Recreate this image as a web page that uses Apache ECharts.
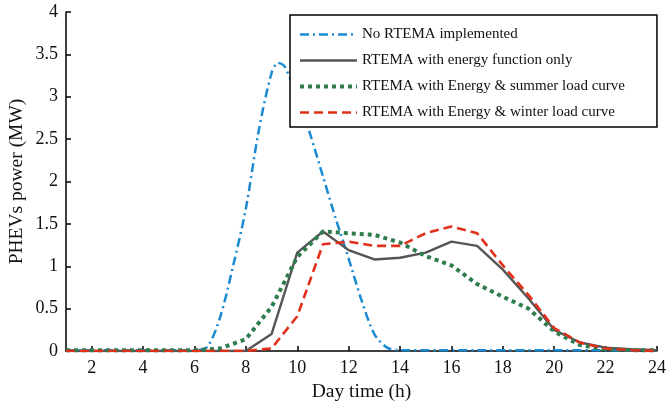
<!DOCTYPE html>
<html>
<head>
<meta charset="utf-8">
<script src="https://cdn.jsdelivr.net/npm/echarts@6/dist/echarts.min.js"></script>
<style>
  html, body { margin: 0; padding: 0; background: #fff; }
  #main { width: 670px; height: 407px; }
</style>
</head>
<body>
<div id="main"></div>
<script>
// hours of the day, one value per hour
var hours = [1,2,3,4,5,6,7,8,9,10,11,12,13,14,15,16,17,18,19,20,21,22,23,24];

// no RTEMA: finer sampling around the morning peak
var blueHours  = [1, 6, 6.5, 7, 7.5, 8, 8.5, 9, 9.25, 9.5, 10, 10.5, 11, 11.5, 12, 12.5, 13, 13.5, 14, 24];
var blueValues = [0.01, 0.01, 0.05, 0.4, 1.0, 1.68, 2.6, 3.28, 3.4, 3.36, 3.0, 2.56, 2.06, 1.56, 1.09, 0.6, 0.2, 0.04, 0.01, 0.01];

var energyOnly = [0,0,0,0,0,0,0,0,0.2,1.16,1.41,1.19,1.08,1.10,1.16,1.29,1.24,0.96,0.62,0.25,0.10,0.04,0.02,0.01];
var summerLoad = [0.01,0.01,0.01,0.01,0.01,0.01,0.03,0.14,0.52,1.11,1.41,1.39,1.37,1.28,1.12,1.01,0.79,0.64,0.50,0.23,0.07,0.02,0.01,0.01];
var winterLoad = [0,0,0,0,0,0,0,0,0.03,0.41,1.26,1.29,1.24,1.24,1.39,1.47,1.39,1.01,0.66,0.27,0.10,0.03,0.01,0];

var names = [
  'No RTEMA implemented',
  'RTEMA with energy function only',
  'RTEMA with Energy & summer load curve',
  'RTEMA with Energy & winter load curve'
];
var xTicks = [2,4,6,8,10,12,14,16,18,20,22,24];

var colors = ['#1a8ad2', '#555', '#2e7d4e', '#e0301a'];
var lineStyles = [
  { color: colors[0], width: 2.5, type: [9, 4, 2, 4] },
  { color: colors[1], width: 2.4 },
  { color: colors[2], width: 4, type: [4, 4] },
  { color: colors[3], width: 2.6, type: [9, 5] }
];

function pairs(xs, ys) {
  var out = [];
  for (var i = 0; i < xs.length; i++) out.push([xs[i], ys[i]]);
  return out;
}

var font = 'Liberation Serif';
var chart = echarts.init(document.getElementById('main'));
chart.setOption({
  animation: false,
  backgroundColor: '#fff',
  textStyle: { fontFamily: font },
  grid: { left: 66, right: 13, top: 12, bottom: 56, outerBoundsMode: 'none' },
  legend: {
    data: names.map(function (n, i) { return { name: n, lineStyle: lineStyles[i] }; }),
    orient: 'vertical',
    left: 290,
    top: 15,
    itemWidth: 57,
    itemHeight: 12,
    itemGap: 9,
    padding: [11, 32, 6, 8],
    borderColor: '#000',
    borderWidth: 1.5,
    backgroundColor: '#fff',
    itemStyle: { opacity: 0 },
    textStyle: { fontFamily: font, fontSize: 15, color: '#111', lineHeight: 17 }
  },
  xAxis: {
    type: 'value',
    min: 1,
    max: 24,
    name: 'Day time (h)',
    nameLocation: 'middle',
    nameGap: 25,
    nameTextStyle: { fontFamily: font, fontSize: 19.5, color: '#111' },
    axisLine: { lineStyle: { color: '#000', width: 1.5 } },
    axisTick: { inside: true, length: 5, customValues: xTicks, lineStyle: { color: '#000', width: 1.5 } },
    axisLabel: { customValues: xTicks, fontFamily: font, fontSize: 18, color: '#111', margin: 8 },
    splitLine: { show: false }
  },
  yAxis: {
    type: 'value',
    min: 0,
    max: 4,
    interval: 0.5,
    name: 'PHEVs power (MW)',
    nameLocation: 'middle',
    nameGap: 39,
    nameMoveOverlap: false,
    nameTextStyle: { fontFamily: font, fontSize: 19.5, color: '#111' },
    axisLine: { show: true, lineStyle: { color: '#000', width: 1.5 } },
    axisTick: { show: true, inside: true, length: 5, lineStyle: { color: '#000', width: 1.5 } },
    axisLabel: { fontFamily: font, fontSize: 18, color: '#111', margin: 8 },
    splitLine: { show: false }
  },
  series: [
    {
      name: names[0], type: 'line', symbol: 'none', smooth: 0.3,
      data: pairs(blueHours, blueValues),
      itemStyle: { color: colors[0] },
      lineStyle: lineStyles[0]
    },
    {
      name: names[1], type: 'line', symbol: 'none',
      data: pairs(hours, energyOnly),
      itemStyle: { color: colors[1] },
      lineStyle: lineStyles[1]
    },
    {
      name: names[2], type: 'line', symbol: 'none',
      data: pairs(hours, summerLoad),
      itemStyle: { color: colors[2] },
      lineStyle: lineStyles[2]
    },
    {
      name: names[3], type: 'line', symbol: 'none',
      data: pairs(hours, winterLoad),
      itemStyle: { color: colors[3] },
      lineStyle: lineStyles[3]
    }
  ]
});
</script>
</body>
</html>
